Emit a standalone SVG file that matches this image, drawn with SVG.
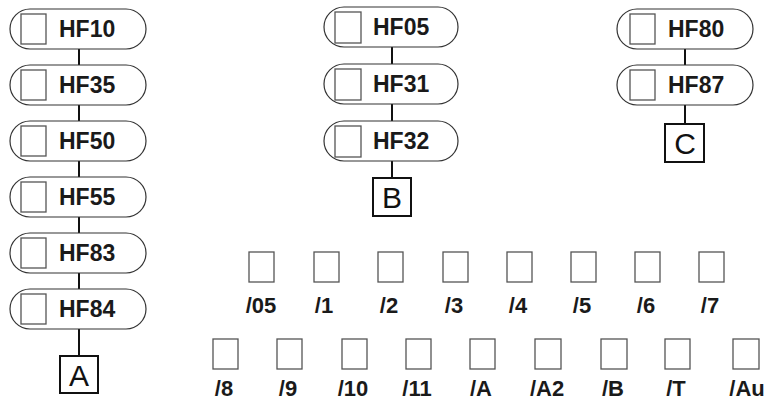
<svg xmlns="http://www.w3.org/2000/svg" width="766" height="401" viewBox="0 0 766 401">
<style>
.pill{fill:#fff;stroke:#333;stroke-width:1.2}
.sq{fill:#fff;stroke:#555;stroke-width:1.3}
.hf{font-family:"Liberation Sans",Arial,sans-serif;font-weight:bold;font-size:23px;fill:#1a1a1a}
.lbl{font-family:"Liberation Sans",Arial,sans-serif;font-weight:bold;font-size:22px;fill:#1a1a1a;text-anchor:middle}
.box{fill:#fff;stroke:#111;stroke-width:2}
.bl{font-family:"Liberation Sans",Arial,sans-serif;font-size:30px;fill:#111;text-anchor:middle}
.con{stroke:#111;stroke-width:2;fill:none}
</style>
<g id="connectors">
<line class="con" x1="79" y1="49" x2="79" y2="356"/>
<line class="con" x1="392" y1="47" x2="392" y2="178"/>
<line class="con" x1="685" y1="49" x2="685" y2="124"/>
</g>
<g id="HF10"><rect class="pill" x="10" y="9" width="136" height="40" rx="20"/><rect class="sq" x="21" y="14" width="25" height="30"/><text class="hf" x="59" y="37">HF10</text></g>
<g id="HF35"><rect class="pill" x="10" y="65" width="136" height="40" rx="20"/><rect class="sq" x="21" y="70" width="25" height="30"/><text class="hf" x="59" y="93">HF35</text></g>
<g id="HF50"><rect class="pill" x="10" y="121" width="136" height="40" rx="20"/><rect class="sq" x="21" y="126" width="25" height="30"/><text class="hf" x="59" y="149">HF50</text></g>
<g id="HF55"><rect class="pill" x="10" y="177" width="136" height="40" rx="20"/><rect class="sq" x="21" y="182" width="25" height="30"/><text class="hf" x="59" y="205">HF55</text></g>
<g id="HF83"><rect class="pill" x="10" y="233" width="136" height="40" rx="20"/><rect class="sq" x="21" y="238" width="25" height="30"/><text class="hf" x="59" y="261">HF83</text></g>
<g id="HF84"><rect class="pill" x="10" y="289" width="136" height="40" rx="20"/><rect class="sq" x="21" y="294" width="25" height="30"/><text class="hf" x="59" y="317">HF84</text></g>
<g id="A"><rect class="box" x="60" y="356" width="38" height="37"/><text class="bl" x="79" y="386">A</text></g>
<g id="HF05"><rect class="pill" x="324" y="7" width="134" height="40" rx="20"/><rect class="sq" x="335" y="12" width="26" height="31"/><text class="hf" x="373" y="35">HF05</text></g>
<g id="HF31"><rect class="pill" x="324" y="64" width="134" height="40" rx="20"/><rect class="sq" x="335" y="69" width="26" height="31"/><text class="hf" x="373" y="92">HF31</text></g>
<g id="HF32"><rect class="pill" x="324" y="121" width="134" height="40" rx="20"/><rect class="sq" x="335" y="126" width="26" height="31"/><text class="hf" x="373" y="149">HF32</text></g>
<g id="B"><rect class="box" x="373" y="178" width="38" height="38"/><text class="bl" x="392" y="208">B</text></g>
<g id="HF80"><rect class="pill" x="617" y="9" width="136" height="40" rx="20"/><rect class="sq" x="630" y="14" width="25" height="30"/><text class="hf" x="668" y="37">HF80</text></g>
<g id="HF87"><rect class="pill" x="617" y="65" width="136" height="40" rx="20"/><rect class="sq" x="630" y="70" width="25" height="30"/><text class="hf" x="668" y="93">HF87</text></g>
<g id="C"><rect class="box" x="665" y="124" width="39" height="38"/><text class="bl" x="685" y="154">C</text></g>
<g id="opt05"><rect class="sq" x="249" y="252" width="25" height="30"/><text class="lbl" x="261" y="313">/05</text></g>
<g id="opt1"><rect class="sq" x="314" y="252" width="25" height="30"/><text class="lbl" x="324" y="313">/1</text></g>
<g id="opt2"><rect class="sq" x="378" y="252" width="25" height="30"/><text class="lbl" x="389" y="313">/2</text></g>
<g id="opt3"><rect class="sq" x="443" y="252" width="25" height="30"/><text class="lbl" x="454" y="313">/3</text></g>
<g id="opt4"><rect class="sq" x="507" y="252" width="25" height="30"/><text class="lbl" x="518" y="313">/4</text></g>
<g id="opt5"><rect class="sq" x="571" y="252" width="25" height="30"/><text class="lbl" x="582" y="313">/5</text></g>
<g id="opt6"><rect class="sq" x="635" y="252" width="25" height="30"/><text class="lbl" x="646" y="313">/6</text></g>
<g id="opt7"><rect class="sq" x="699" y="252" width="25" height="30"/><text class="lbl" x="710" y="313">/7</text></g>
<g id="opt8"><rect class="sq" x="213" y="339" width="25" height="30"/><text class="lbl" x="224" y="396">/8</text></g>
<g id="opt9"><rect class="sq" x="277" y="339" width="25" height="30"/><text class="lbl" x="288" y="396">/9</text></g>
<g id="opt10"><rect class="sq" x="342" y="339" width="25" height="30"/><text class="lbl" x="353" y="396">/10</text></g>
<g id="opt11"><rect class="sq" x="406" y="339" width="25" height="30"/><text class="lbl" x="417" y="396">/11</text></g>
<g id="optA"><rect class="sq" x="470" y="339" width="25" height="30"/><text class="lbl" x="481" y="396">/A</text></g>
<g id="optA2"><rect class="sq" x="535" y="339" width="26" height="30"/><text class="lbl" x="547" y="396">/A2</text></g>
<g id="optB"><rect class="sq" x="601" y="339" width="26" height="30"/><text class="lbl" x="613" y="396">/B</text></g>
<g id="optT"><rect class="sq" x="665" y="339" width="25" height="30"/><text class="lbl" x="676" y="396">/T</text></g>
<g id="optAu"><rect class="sq" x="733" y="339" width="26" height="30"/><text class="lbl" x="747" y="396">/Au</text></g>
</svg>
